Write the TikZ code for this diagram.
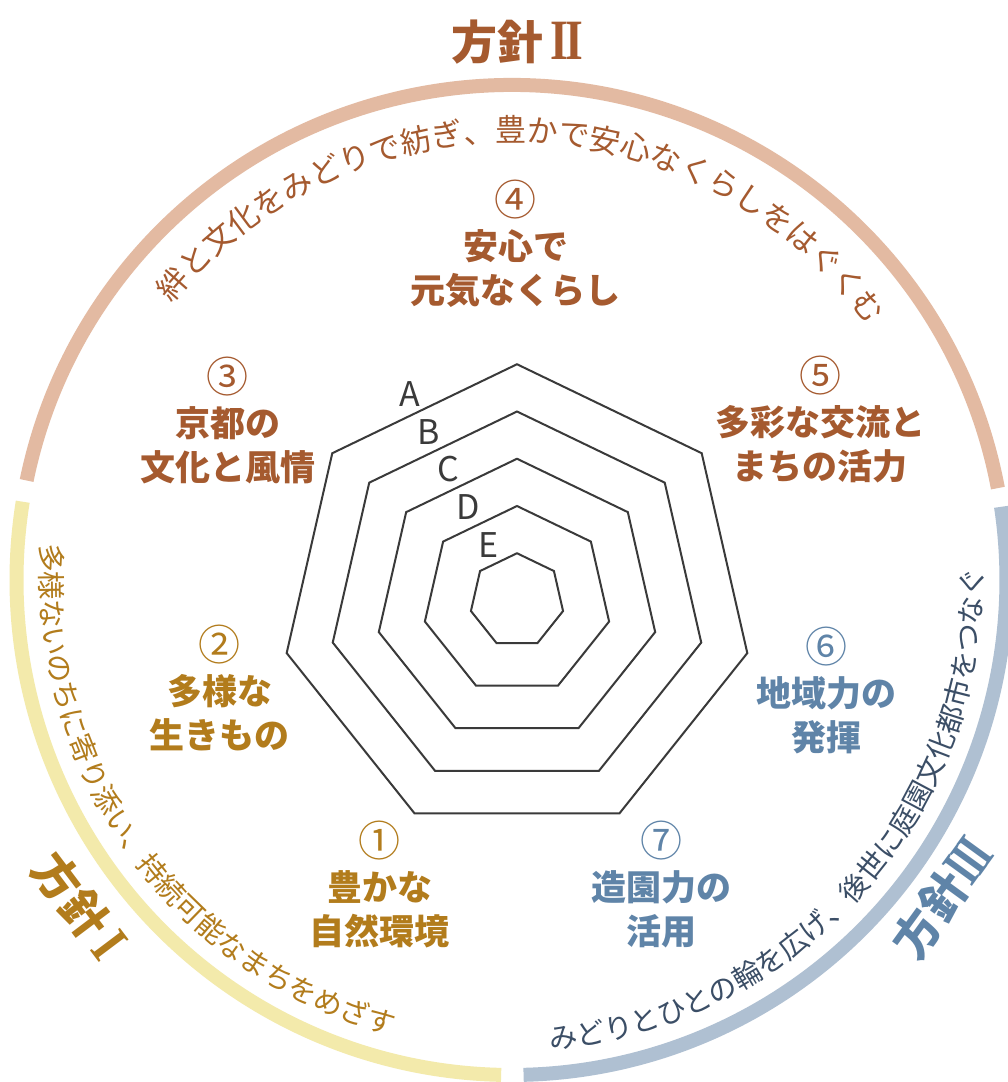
\documentclass[tikz,border=0pt]{standalone}
\usepackage{fontspec}
\setmainfont{Noto Sans CJK JP}
\newfontfamily\romfont{Liberation Serif}
\usetikzlibrary{decorations.text}

\definecolor{brownTx}{HTML}{A55A2F}
\definecolor{brownRing}{HTML}{E3BAA2}
\definecolor{goldTx}{HTML}{B27C1C}
\definecolor{goldRing}{HTML}{F3EAAB}
\definecolor{blueTx}{HTML}{5F84A8}
\definecolor{blueRing}{HTML}{AFC0D2}
\definecolor{navyTx}{HTML}{3B4E66}
\definecolor{lineGray}{HTML}{3A3A3A}

\newcommand{\labfont}{\bfseries\fontsize{35}{44}\selectfont}
\newcommand{\numfont}{\mdseries\fontsize{42}{44}\selectfont}
\newcommand{\arcfont}{\fontsize{28.5}{28.5}\selectfont}
\newcommand{\bigarcfont}{\fontsize{31}{31}\selectfont}
% roman numerals with joined serifs
\newcommand{\romnum}[2][0.8]{{\romfont\bfseries\fontsize{57}{57}\selectfont\scalebox{#1}[1]{#2}}}

\begin{document}
\begin{tikzpicture}[x=1pt,y=1pt,
			ring/.style={line width=14pt},
			hept/.style={draw=lineGray,line width=2pt},
			item/.style={align=center,font=\labfont,inner sep=0pt},
			ttl/.style={font=\bfseries\fontsize{46}{46}\selectfont,inner sep=0pt},
			grade/.style={font=\fontsize{34}{34}\selectfont,text=lineGray,inner sep=0pt},
			arctext/.style={decorate,decoration={text along path,text align=center,text={#1}}}]

			\useasboundingbox (-511.5,-502) rectangle (496.5,580);
			\fill[white] (-511.5,-502) rectangle (496.5,580);

			% the three rings
			\draw[ring,brownRing] (10.7:495) arc[start angle=10.7,end angle=168.4,radius=495pt];
			\draw[ring,goldRing] (170.9:495) arc[start angle=170.9,end angle=268.8,radius=495pt];
			\draw[ring,blueRing] (271.4:495) arc[start angle=271.4,end angle=368.5,radius=495pt];

			\path[arctext={|\bigarcfont\color{brownTx}|絆と文化をみどりで紡ぎ、豊かで安心なくらしをはぐくむ}]
				(150:438) arc[start angle=150,end angle=26.2,radius=438pt];
			\path[arctext={|\arcfont\color{goldTx}|多様ないのちに寄り添い、持続可能なまちをめざす}]
				(170:471) arc[start angle=170,end angle=260.8,radius=471pt];
			\path[arctext={|\arcfont\color{navyTx}|みどりとひとの輪を広げ、後世に庭園文化都市をつなぐ}]
				(271.5:471) arc[start angle=271.5,end angle=364.7,radius=471pt];

			\node[ttl,text=brownTx] (t2) at (89.4:538) {方針\,\romnum{I\kern-0.07em I}};
			\node[ttl,text=goldTx,rotate=-53] (t1) at (217:542) {方針\,\romnum{I}};
			\node[ttl,text=blueTx,rotate=54] (t3) at (323.6:536) {方針\romnum[0.7]{I\kern-0.07em I\kern-0.07em I}};

			% heptagons A--E
			\begin{scope}[shift={(5.5,-20.5)}]
				\coordinate (hc) at (0,0);
				\foreach \k/\g in {1/E,2/D,3/C,4/B,5/A}{
					\draw[hept] (90:{47.25*\k}) \foreach \j in {1,...,6}{ -- ({90+\j*360/7}:{47.25*\k})} -- cycle;
					\node[grade] (g\g) at (117.5:{0.901*47.25*\k+20}) {\g};
				}
			\end{scope}

			\node[item,text=brownTx] (n4) at (4.5,336) {{\numfont ④}\\安心で\\元気なくらし};
			\node[item,text=brownTx] (n3) at (-283.5,160) {{\numfont ③}\\京都の\\文化と風情};
			\node[item,text=brownTx] (n5) at (308.5,160) {{\numfont ⑤}\\多彩な交流と\\まちの活力};
			\node[item,text=goldTx] (n2) at (-291.5,-108) {{\numfont ②}\\多様な\\生きもの};
			\node[item,text=goldTx] (n1) at (-131.5,-304) {{\numfont ①}\\豊かな\\自然環境};
			\node[item,text=blueTx] (n6) at (314.5,-110) {{\numfont ⑥}\\地域力の\\発揮};
			\node[item,text=blueTx] (n7) at (150.5,-304) {{\numfont ⑦}\\造園力の\\活用};
\end{tikzpicture}
\end{document}
